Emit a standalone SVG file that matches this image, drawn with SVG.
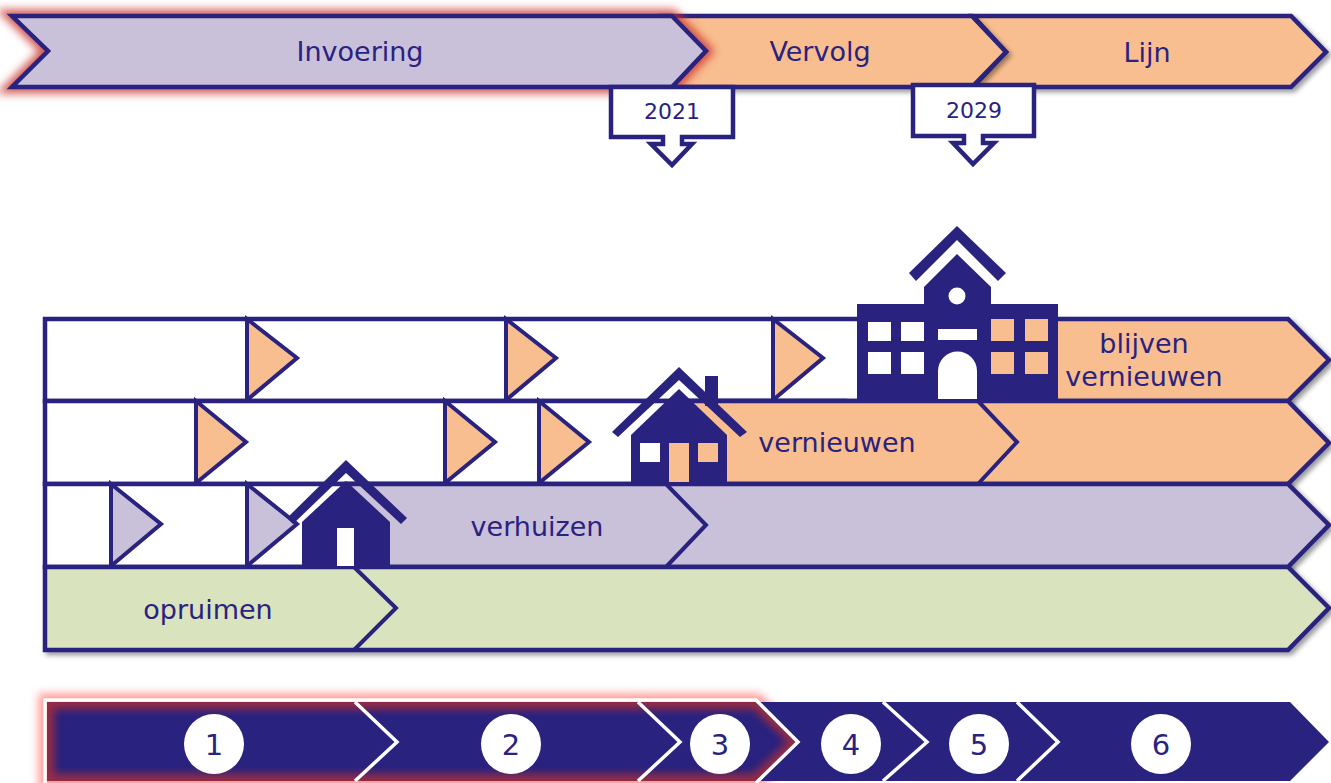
<svg xmlns="http://www.w3.org/2000/svg" width="1331" height="783" viewBox="0 0 1331 783">
<style>
text{font-family:"DejaVu Sans","Liberation Sans",sans-serif;fill:#29227f;text-anchor:middle}
.l{font-size:27px}.y{font-size:22px}.n{font-size:29px}
.s{stroke:#29227f;stroke-width:4.500;stroke-linejoin:miter}
.t{stroke:#29227f;stroke-width:4;fill:none}
.d{fill:#29227f}.w{fill:#fff}.o{fill:#f9be8f}.v{fill:#c9c0da}.g{fill:#d9e3bd}
</style>
<defs>
<filter id="sh" x="-5%" y="-20%" width="110%" height="140%"><feDropShadow dx="3" dy="3" stdDeviation="2.5" flood-color="#000" flood-opacity=".4"/></filter>
<filter id="b6" x="-5%" y="-30%" width="110%" height="160%"><feGaussianBlur stdDeviation="4"/></filter>
<filter id="b5" x="-5%" y="-30%" width="110%" height="160%"><feGaussianBlur stdDeviation="4"/></filter>
<clipPath id="c3"><polygon points="47,702 756,702 798,742 756,781 47,781"/></clipPath>
</defs>

<g id="fase-lijn"><polygon class="s o" points="973,16 1291,16 1326,52 1291,87 973,87 1006,52" filter="url(#sh)"/><text class="l" x="1147" y="62">Lijn</text></g>
<g id="fase-vervolg"><polygon class="s o" points="660,16 972,16 1006,52 972,87 660,87" filter="url(#sh)"/><text class="l" x="820" y="61">Vervolg</text></g>
<g id="fase-invoering">
<polygon points="12,16 672,16 706,51 672,87 12,87 48,51" fill="#c8302a" opacity=".8" stroke="#c8302a" stroke-width="13" filter="url(#b6)"/>
<polygon class="s v" points="12,16 672,16 706,51 672,87 12,87 48,51"/>
<text class="l" x="360" y="61">Invoering</text></g>

<g id="jaar-2021"><path class="s w" d="M611,87H733V137H682V144H692L672,165L651,144H663V137H611Z" stroke-width="3.5"/><text class="y" x="672" y="119">2021</text></g>
<g id="jaar-2029"><path class="s w" d="M913,85H1034V136H983V143H994L973,164L953,143H964V136H913Z" stroke-width="3.5"/><text class="y" x="974" y="118">2029</text></g>

<g id="rij-blijven-vernieuwen">
<rect class="s w" x="45" y="319" width="1000" height="82"/>
<polygon class="s o" points="957,319 1288,319 1329,360 1288,401 957,401" filter="url(#sh)"/>
<polygon class="t o" points="247,319 297,358 247,400"/>
<polygon class="t o" points="506,319 556,358 506,400"/>
<polygon class="t o" points="773,319 823,358 773,400"/>
<text class="l" x="1144" y="353">blijven</text><text class="l" x="1144" y="386">vernieuwen</text>
</g>
<g id="rij-vernieuwen">
<rect class="s w" x="45" y="401" width="800" height="83"/>
<polygon class="s o" points="679,401 1288,401 1329,443 1288,484 679,484" filter="url(#sh)"/>
<path class="t" d="M978,401L1017,442L978,484"/>
<polygon class="t o" points="196,401 246,442 196,483"/>
<polygon class="t o" points="445,401 495,442 445,483"/>
<polygon class="t o" points="539,401 589,442 539,483"/>
<text class="l" x="837" y="452">vernieuwen</text>
</g>
<g id="rij-verhuizen">
<rect class="s w" x="45" y="484" width="500" height="83"/>
<polygon class="s v" points="346,484 1288,484 1329,525 1288,567 346,567" filter="url(#sh)"/>
<path class="t" d="M666,484L706,525L666,567"/>
<polygon class="t v" points="111,484 161,524 111,566"/>
<polygon class="t v" points="247,484 297,524 247,566"/>
<text class="l" x="537" y="536">verhuizen</text>
</g>
<g id="rij-opruimen">
<polygon class="s g" points="45,567 1288,567 1329,608 1288,650 45,650" filter="url(#sh)"/>
<path class="t" d="M354,567L396,608L354,650"/>
<text class="l" x="208" y="619">opruimen</text>
</g>

<g id="gebouw-school">
<path class="d" d="M957,226L1006,273L998,281L957,240L916,281L909,273Z"/>
<path class="d" d="M857,304H924V287L957,254L991,287V304H1058V402H857Z"/>
<circle class="w" cx="957" cy="296" r="8.5"/>
<rect class="w" x="868" y="322" width="23" height="19"/><rect class="w" x="901" y="322" width="23" height="19"/>
<rect class="w" x="868" y="352" width="23" height="22"/><rect class="w" x="901" y="352" width="23" height="22"/>
<rect class="o" x="991" y="319" width="23" height="22"/><rect class="o" x="1025" y="319" width="23" height="22"/>
<rect class="o" x="991" y="352" width="23" height="22"/><rect class="o" x="1025" y="352" width="23" height="22"/>
<rect class="w" x="938" y="329" width="39" height="11"/>
<path class="w" d="M938,399V371A19.500,19.500 0 0 1 977,371V399Z"/>
</g>
<g id="gebouw-huis">
<rect class="d" x="705" y="376" width="13" height="30"/>
<path class="d" d="M679,367L747,432L740,437L679,380L618,437L612,432Z"/>
<path class="d" d="M631,435L679,389L727,435V484H631Z"/>
<rect class="w" x="640" y="443" width="20" height="19"/>
<rect class="o" x="669" y="443" width="20" height="39"/>
<rect class="o" x="698" y="443" width="20" height="19"/>
</g>
<g id="gebouw-klein">
<path class="d" d="M346,460L407,518L401,524L346,473L293,524L287,518Z"/>
<path class="d" d="M302,522L346,481L390,522V567H302Z"/>
<rect class="w" x="337" y="528" width="17" height="38"/>
</g>

<g id="balk-stappen">
<polygon points="47,702 756,702 798,742 756,781 47,781" fill="#ff8a85" stroke="#ff8a85" stroke-width="17" opacity=".85" filter="url(#b5)"/>
<polygon class="d" points="47,702 1290,702 1329,742 1290,781 47,781"/>
<g clip-path="url(#c3)"><polygon points="47,702 756,702 798,742 756,781 47,781" fill="none" stroke="#c8302a" stroke-width="14" opacity=".7" filter="url(#b6)"/></g>
<g fill="none" stroke="#fff" stroke-width="3.500">
<path d="M355,702L397,742L355,781"/><path d="M638,702L680,742L638,781"/>
<path d="M883,702L927,742L883,781"/><path d="M1017,702L1058,742L1017,781"/>
<path d="M45,783V700H756L798,742L756,783"/>
</g>
</g>
<g id="stap-1"><circle class="w" cx="214" cy="744" r="30"/><text class="n" x="214" y="755">1</text></g>
<g id="stap-2"><circle class="w" cx="511" cy="744" r="30"/><text class="n" x="511" y="755">2</text></g>
<g id="stap-3"><circle class="w" cx="720" cy="744" r="30"/><text class="n" x="720" y="755">3</text></g>
<g id="stap-4"><circle class="w" cx="851" cy="744" r="30"/><text class="n" x="851" y="755">4</text></g>
<g id="stap-5"><circle class="w" cx="979" cy="744" r="30"/><text class="n" x="979" y="755">5</text></g>
<g id="stap-6"><circle class="w" cx="1161" cy="744" r="30"/><text class="n" x="1161" y="755">6</text></g>
<g id="verbindingen"/>
</svg>
